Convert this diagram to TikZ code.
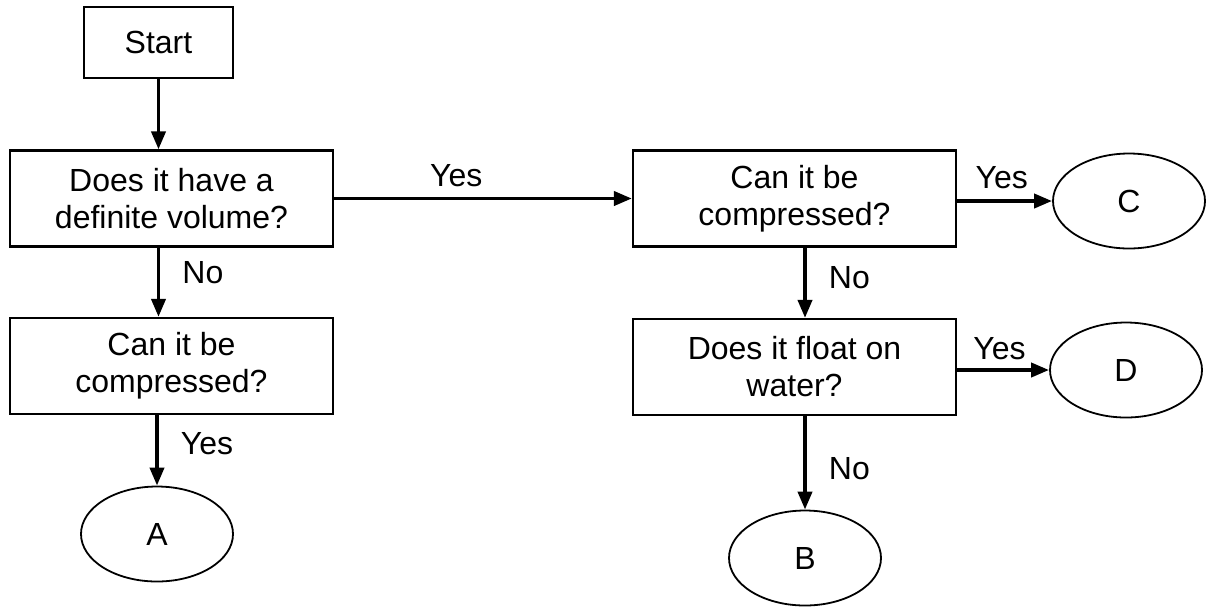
\documentclass[tikz,border=0pt]{standalone}
\usepackage{fontspec}
\setmainfont{Liberation Sans}
\usetikzlibrary{arrows.meta,positioning,shapes.geometric}

\begin{document}
\begin{tikzpicture}[
  x=0.5pt, y=-0.5pt,
  every node/.style={font=\fontsize{16}{18.5}\selectfont},
  box/.style={draw, line width=1.1pt, minimum width=161.5pt, minimum height=48pt, align=center, inner sep=2pt},
  endpt/.style={draw, ellipse, line width=0.9pt, minimum width=76pt, minimum height=47.5pt, inner sep=0pt},
  flow/.style={line width=1.9pt, -{Triangle[length=9pt,width=7pt]}},
  lbl/.style={inner sep=1pt}
]
  \useasboundingbox (0,0) rectangle (1208,607);

  % --- Kaesten ---
  \node[box, minimum width=74.5pt, minimum height=35.5pt] (start) at (158.5,42.5) {Start};
  \node[box] (vol)   at (171.5,198.5) {Does it have a\\definite volume?};
  \node[box] (compL) at (171.5,366)   {Can it be\\compressed?};
  \node[box] (compR) at (794.5,198.5) {Can it be\\compressed?};
  \node[box] (float) at (794.5,367)   {Does it float on\\water?};

  % --- Ergebnisse ---
  \node[endpt] (A) at (157,534) {A};
  \node[endpt] (B) at (805,558) {B};
  \node[endpt] (C) at (1129,201) {C};
  \node[endpt] (D) at (1126,370) {D};

  % --- Pfeile ---
  \draw[flow] (start.south) -- (start.south |- vol.north);
  \draw[flow] (start.south |- vol.south) -- (start.south |- compL.north)
    node[lbl, pos=0.36, right=10pt] (noL) {No};
  \draw[flow] (A.north |- compL.south) -- (A.north)
    node[lbl, pos=0.4, right=10pt] (yesA) {Yes};
  \draw[flow] (vol.east) -- (vol.east -| compR.west)
    node[lbl, pos=0.41, above=4pt] (yesV) {Yes};
  \draw[flow] (compR.east |- C.west) -- (C.west)
    node[lbl, pos=0.47, above=4pt] (yesC) {Yes};
  \draw[flow] (float.east |- D.west) -- (D.west)
    node[lbl, pos=0.46, above=3pt] (yesD) {Yes};
  \draw[flow] (B.north |- compR.south) -- (B.north |- float.north)
    node[lbl, pos=0.43, right=10pt] (noR) {No};
  \draw[flow] (B.north |- float.south) -- (B.north)
    node[lbl, pos=0.56, right=10pt] (noB) {No};
\end{tikzpicture}
\end{document}
